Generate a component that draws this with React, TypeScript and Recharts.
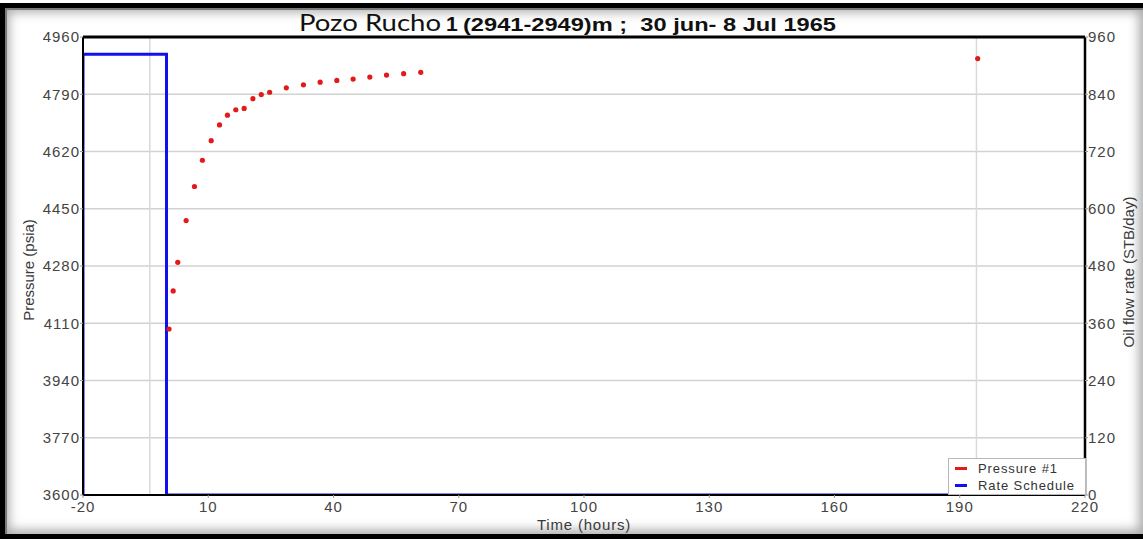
import React from 'react';
import {
  ComposedChart,
  Line,
  Scatter,
  XAxis,
  YAxis,
  CartesianGrid,
  ReferenceLine,
  Legend,
} from 'recharts';

// ---- data ----
const pressureTimes = [0.6, 1.6, 2.7, 4.7, 6.7, 8.6, 10.7, 12.7, 14.6, 16.6, 18.6, 20.7, 22.7, 24.7, 28.7, 32.8, 36.8, 40.8, 44.7, 48.7, 52.7, 56.8, 60.9, 194.3];
const pressureValues = [4093, 4206, 4291, 4415, 4516, 4594, 4652, 4699, 4728, 4744, 4748, 4777, 4789, 4796, 4809, 4818, 4826, 4831, 4835, 4841, 4847, 4851, 4855, 4896];
const rateTimes = [-20, -20, 0, 0, 220];
const rateValues = [0, 924, 924, 0, 0];
const xTicks = [-20, 10, 40, 70, 100, 130, 160, 190, 220];
const pressureTicks = [3600, 3770, 3940, 4110, 4280, 4450, 4620, 4790, 4960];
const rateTicks = [0, 120, 240, 360, 480, 600, 720, 840, 960];
const eventTimes = [-4, 194];
const legendLabels = ['Pressure #1', 'Rate Schedule'];
const legendColors = ['#e21a1a', '#1010f0'];

const pressureData = pressureTimes.map((t, i) => ({ t, p: pressureValues[i] }));
const rateData = rateTimes.map((t, i) => ({ t, rate: rateValues[i] }));

const FONT = '"Liberation Sans", Arial, sans-serif';
const tickStyle = { fill: '#444', fontSize: 15, fontFamily: FONT, letterSpacing: 1 };

const renderLegend = () => (
  <div
    style={{
      boxSizing: 'border-box',
      width: 138,
      height: 37,
      border: '1px solid #b8b8b8',
      background: '#fff',
      fontFamily: FONT,
      fontSize: 13,
      letterSpacing: 0.9,
      color: '#333',
      padding: '1px 0 0 6px',
      lineHeight: '16px',
    }}
  >
    {legendLabels.map((lab, i) => (
      <div key={lab} style={{ display: 'flex', alignItems: 'center', height: 17 }}>
        <span style={{ display: 'inline-block', width: 12, height: 3, background: legendColors[i], marginRight: 11 }} />
        <span>{lab}</span>
      </div>
    ))}
  </div>
);

const PressureDot = (props: any) => (
  <circle cx={props.cx} cy={props.cy} r={2.6} fill="#e21a1a" />
);

export default function App() {
  return (
    <div style={{ position: 'fixed', left: 0, top: 0, width: 1143, height: 539, background: '#fff', overflow: 'hidden' }}>
      <div
        style={{
          position: 'absolute',
          left: 0,
          top: 3,
          width: 1143,
          height: 536,
          boxSizing: 'border-box',
          borderTop: '5px solid #000',
          borderLeft: '5px solid #000',
          borderBottom: '5px solid #000',
        }}
      >
        <div
          style={{
            position: 'absolute',
            inset: 0,
            boxShadow: 'inset 2px 2px 0 #7a7a7a, inset 0 0 11px 4px rgba(0,0,0,0.34)',
          }}
        />
      </div>
      <div style={{ position: 'absolute', left: 0, top: 0 }}>
        <ComposedChart width={1143} height={539} margin={{ top: 37, right: 0, left: 0, bottom: 10 }}>
          <CartesianGrid yAxisId="left" vertical={false} stroke="#d2d2d2" strokeWidth={1.5} />
          {eventTimes.map((t) => (
            <ReferenceLine key={t} x={t} yAxisId="left" stroke="#d9d9d9" strokeWidth={1.5} />
          ))}
          <ReferenceLine y={4960} yAxisId="left" stroke="#000" strokeWidth={3} />
          <XAxis
            type="number"
            dataKey="t"
            domain={[-20, 220]}
            ticks={xTicks}
            height={34}
            tick={tickStyle}
            tickSize={3}
            tickMargin={3}
            tickLine={{ stroke: '#999' }}
            axisLine={{ stroke: '#000', strokeWidth: 2 }}
            interval={0}
            allowDataOverflow
            label={(p: any) => (
              <text x={584} y={530} textAnchor="middle" fill="#3a3a3a" fontSize={15} fontFamily={FONT} letterSpacing={0.8}>
                Time (hours)
              </text>
            )}
          />
          <YAxis
            yAxisId="left"
            orientation="left"
            dataKey="p"
            width={83}
            domain={[3600, 4960]}
            ticks={pressureTicks}
            tick={tickStyle}
            tickSize={3}
            tickMargin={0}
            tickLine={{ stroke: '#999' }}
            axisLine={{ stroke: '#000', strokeWidth: 2 }}
            interval={0}
            allowDataOverflow
            label={(p: any) => (
              <text
                x={28}
                y={270}
                transform="rotate(-90, 28, 270)"
                textAnchor="middle"
                dominantBaseline="central"
                fill="#3a3a3a"
                fontSize={15}
                fontFamily={FONT}
              >
                Pressure (psia)
              </text>
            )}
          />
          <YAxis
            yAxisId="right"
            orientation="right"
            dataKey="rate"
            width={58}
            domain={[0, 960]}
            ticks={rateTicks}
            tick={tickStyle}
            tickSize={3}
            tickMargin={0}
            tickLine={{ stroke: '#999' }}
            axisLine={{ stroke: '#000', strokeWidth: 2.5 }}
            interval={0}
            allowDataOverflow
            label={(p: any) => (
              <text
                x={1128}
                y={272}
                transform="rotate(-90, 1128, 272)"
                textAnchor="middle"
                dominantBaseline="central"
                fill="#3a3a3a"
                fontSize={15}
                fontFamily={FONT}
              >
                Oil flow rate (STB/day)
              </text>
            )}
          />
          <Line
            yAxisId="right"
            data={rateData}
            dataKey="rate"
            type="linear"
            stroke="#1010f0"
            strokeWidth={3}
            dot={false}
            activeDot={false}
            isAnimationActive={false}
            legendType="none"
          />
          <Scatter
            yAxisId="left"
            data={pressureData}
            dataKey="p"
            fill="#e21a1a"
            shape={PressureDot}
            isAnimationActive={false}
            legendType="none"
          />
          <Legend
            layout="horizontal"
            verticalAlign="middle"
            align="center"
            content={renderLegend}
            wrapperStyle={{ left: 948, top: 458, width: 138, height: 37 }}
          />
        </ComposedChart>
      </div>
      <svg width={1143} height={539} style={{ position: 'absolute', left: 0, top: 0, pointerEvents: 'none' }}>
        <text
          x={299}
          y={31}
          fill="#111"
          fontFamily="Lato, 'Open Sans', sans-serif"
          fontSize={24}
          textLength={142}
          lengthAdjust="spacingAndGlyphs"
        >
          Pozo Rucho
        </text>
        <text x={446} y={31} fill="#111" fontFamily={FONT} fontWeight="bold" fontSize={21}>
          1
        </text>
        <text
          x={463}
          y={31}
          fill="#111"
          fontFamily={FONT}
          fontWeight="bold"
          fontSize={19}
          textLength={373}
          lengthAdjust="spacingAndGlyphs"
          style={{ whiteSpace: 'pre' }}
        >
          (2941-2949)m ;  30 jun- 8 Jul 1965
        </text>
      </svg>
    </div>
  );
}
